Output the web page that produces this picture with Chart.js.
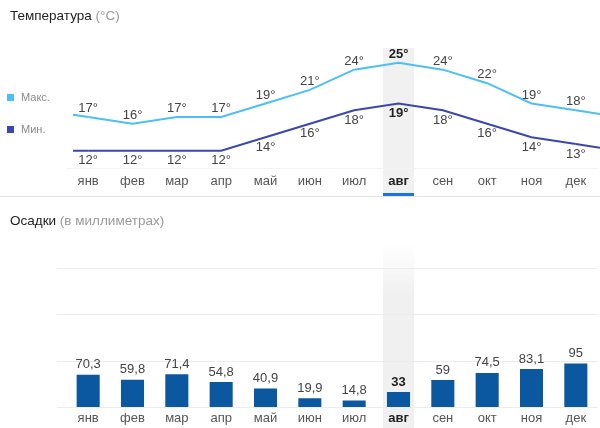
<!DOCTYPE html>
<html>
<head>
<meta charset="utf-8">
<script src="https://cdn.jsdelivr.net/npm/chart.js@4"></script>
<style>
  body { margin: 0; background: #fff; font-family: Arial, "Liberation Sans", sans-serif; }
  #wrap { position: relative; width: 600px; height: 428px; overflow: hidden; }
  canvas { position: absolute; left: 0; }
  .title { position: absolute; left: 10px; font-size: 13.5px; color: #222; }
  .title span { color: #9a9a9a; }
  .legend { position: absolute; left: 7px; font-size: 11px; color: #8a8a8a; }
  .legend i { display: inline-block; width: 7px; height: 7px; margin-right: 7px; vertical-align: 0px; }
  #sep { position: absolute; left: 0; top: 196px; width: 600px; height: 1px; background: #e3e3e3; }
</style>
</head>
<body>
<div id="wrap">
  <canvas id="tempChart" width="600" height="196" style="top:0"></canvas>
  <div id="sep"></div>
  <canvas id="rainChart" width="600" height="232" style="top:197px"></canvas>
  <div class="title" style="top:8px">Температура <span>(°C)</span></div>
  <div class="legend" style="top:91px"><i style="background:#4cbff5"></i>Макс.</div>
  <div class="legend" style="top:123px"><i style="background:#3a47b0"></i>Мин.</div>
  <div class="title" style="top:213px">Осадки <span>(в миллиметрах)</span></div>
</div>
<script>
// ====== DATA ======
const months = ["янв", "фев", "мар", "апр", "май", "июн", "июл", "авг", "сен", "окт", "ноя", "дек"];
const tempMax = [17, 16, 17, 17, 19, 21, 24, 25, 24, 22, 19, 18];
const tempMin = [12, 12, 12, 12, 14, 16, 18, 19, 18, 16, 14, 13];
const rainfall = [70.3, 59.8, 71.4, 54.8, 40.9, 19.9, 14.8, 33, 59, 74.5, 83.1, 95];
const currentMonth = 7;

const FONT = "Arial, 'Liberation Sans', sans-serif";
const maxColor = "#4cbff5";
const minColor = "#3a47b0";
const barColor = "#0b57a0";

function tickFont(ctx) {
  return { family: FONT, size: 13, weight: ctx.index === currentMonth ? "bold" : "normal" };
}
function tickColor(ctx) {
  return ctx.index === currentMonth ? "#222" : "#555";
}

// ====== HIGHLIGHT COLUMN ======
const highlightPlugin = {
  id: "highlight",
  beforeDraw(chart, args, opts) {
    const ctx = chart.ctx;
    const x = chart.scales.x.getPixelForValue(currentMonth);
    const w = 31;
    const top = chart.chartArea.top - opts.lift;
    const bottom = chart.height;
    ctx.save();
    if (opts.fade) {
      const g = ctx.createLinearGradient(0, top, 0, top + 50);
      g.addColorStop(0, "rgba(240,240,240,0)");
      g.addColorStop(1, "rgba(240,240,240,1)");
      ctx.fillStyle = g;
    } else {
      ctx.fillStyle = "#f1f1f1";
    }
    ctx.fillRect(x - w / 2, top, w, bottom - top);
    if (opts.underline) {
      ctx.fillStyle = "#1a73e8";
      ctx.fillRect(x - w / 2, bottom - 3, w, 3);
    }
    ctx.restore();
  }
};

// ====== LINE EXTENSIONS TO EDGES ======
const edgePlugin = {
  id: "edges",
  beforeDatasetsDraw(chart) {
    const ctx = chart.ctx;
    const area = chart.chartArea;
    chart.data.datasets.forEach((ds, i) => {
      const pts = chart.getDatasetMeta(i).data;
      const n = pts.length;
      const a = pts[0], b = pts[1];
      const c = pts[n - 2], d = pts[n - 1];
      const sl = (b.y - a.y) / (b.x - a.x);
      const sr = (d.y - c.y) / (d.x - c.x);
      ctx.save();
      ctx.strokeStyle = ds.borderColor;
      ctx.lineWidth = ds.borderWidth;
      ctx.beginPath();
      ctx.moveTo(area.left + 7, a.y - sl * (a.x - area.left - 7));
      ctx.lineTo(a.x, a.y);
      ctx.moveTo(d.x, d.y);
      ctx.lineTo(chart.width, d.y + sr * (chart.width - d.x));
      ctx.stroke();
      ctx.restore();
    });
  }
};

// ====== VALUE LABELS ======
const valuePlugin = {
  id: "values",
  afterDatasetsDraw(chart, args, opts) {
    const ctx = chart.ctx;
    ctx.save();
    ctx.textAlign = "center";
    ctx.textBaseline = "middle";
    chart.data.datasets.forEach((ds, i) => {
      const meta = chart.getDatasetMeta(i);
      meta.data.forEach((el, j) => {
        const bold = j === currentMonth;
        ctx.font = (bold ? "bold " : "") + "13px " + FONT;
        ctx.fillStyle = bold ? "#222" : "#444";
        const off = opts.offsets[i];
        ctx.fillText(opts.format(ds.data[j]), el.x, el.y + off);
      });
    });
    ctx.restore();
  }
};

// ====== TEMPERATURE CHART ======
new Chart(document.getElementById("tempChart"), {
  type: "line",
  data: {
    labels: months,
    datasets: [
      { label: "Макс.", data: tempMax, borderColor: maxColor, borderWidth: 2, pointRadius: 0, tension: 0 },
      { label: "Мин.", data: tempMin, borderColor: minColor, borderWidth: 2, pointRadius: 0, tension: 0 }
    ]
  },
  options: {
    responsive: false,
    animation: false,
    layout: { padding: { left: 66, right: 2, top: 48, bottom: 2 } },
    scales: {
      x: {
        offset: true,
        grid: { display: false, drawTicks: false },
        border: { display: true, color: "#f3f3f3" },
        ticks: { padding: 5, font: tickFont, color: tickColor }
      },
      y: { display: false, min: 9.4, max: 27.2 }
    },
    plugins: {
      legend: { display: false },
      tooltip: { enabled: false },
      highlight: { underline: true, lift: 0 },
      values: { offsets: [-8.5, 10], format: v => v + "°" }
    }
  },
  plugins: [highlightPlugin, edgePlugin, valuePlugin]
});

// ====== RAINFALL CHART ======
new Chart(document.getElementById("rainChart"), {
  type: "bar",
  data: {
    labels: months,
    datasets: [{
      label: "Осадки",
      data: rainfall,
      backgroundColor: barColor,
      categoryPercentage: 1,
      barPercentage: 0.52
    }]
  },
  options: {
    responsive: false,
    animation: false,
    layout: { padding: { left: 57, right: 2, top: 53, bottom: 0 } },
    scales: {
      x: {
        grid: { display: false, drawTicks: false },
        border: { display: false },
        ticks: { padding: 3, font: tickFont, color: tickColor }
      },
      y: {
        min: 0,
        max: 340,
        ticks: { display: false, stepSize: 100, includeBounds: false },
        grid: { color: "#ececec", drawTicks: true, tickLength: 9 },
        border: { display: false }
      }
    },
    plugins: {
      legend: { display: false },
      tooltip: { enabled: false },
      highlight: { fade: true, lift: 6 },
      values: { offsets: [-10], format: v => String(v).replace(".", ",") }
    }
  },
  plugins: [highlightPlugin, valuePlugin]
});
</script>
</body>
</html>
